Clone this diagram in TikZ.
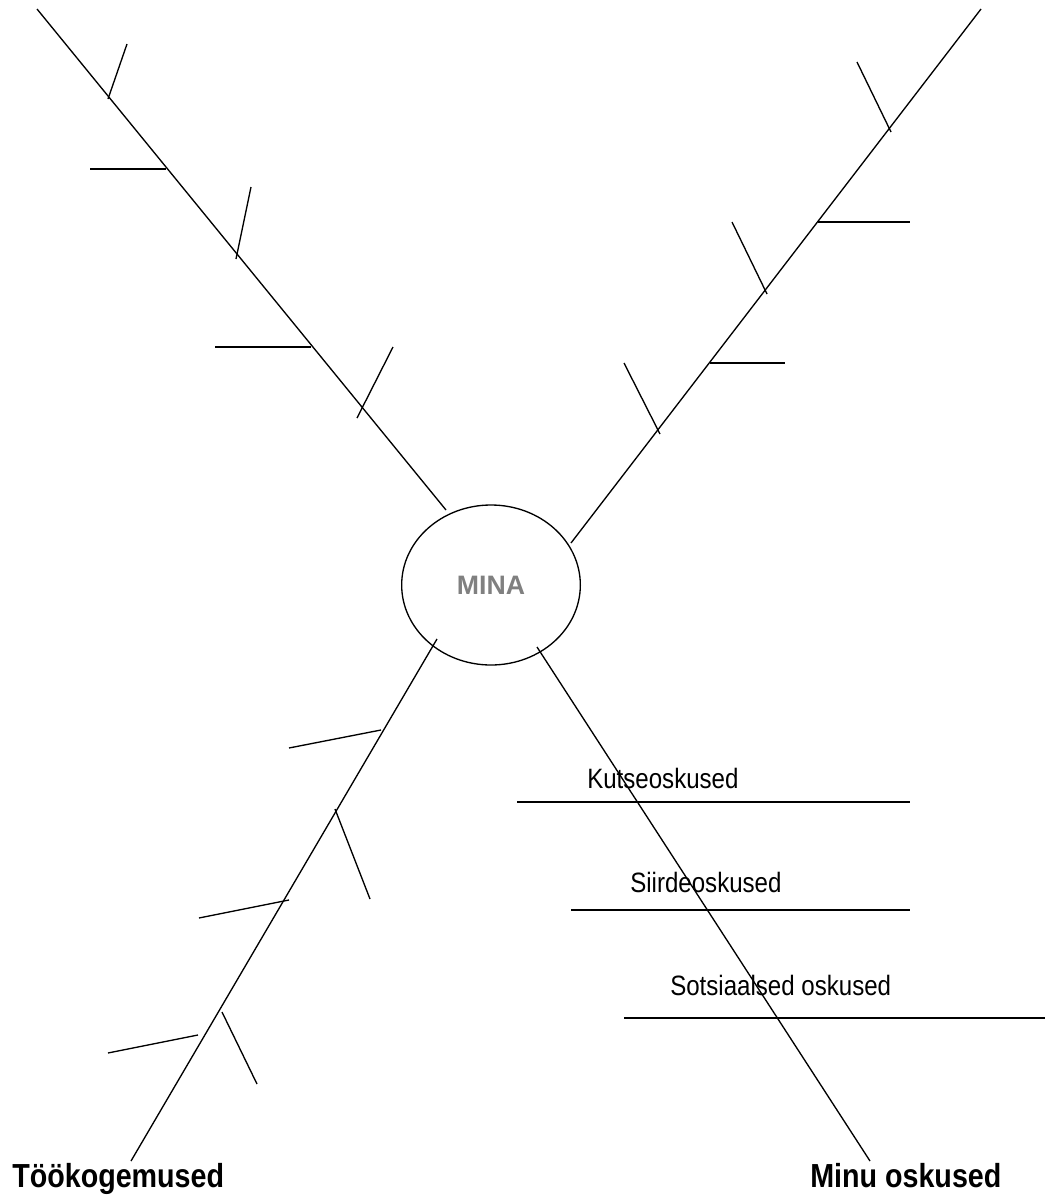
\documentclass[tikz,border=0pt]{standalone}
\usepackage{fontspec}
\setmainfont{Liberation Sans}
\newfontfamily\narrowfont[FakeStretch=0.86]{Liberation Sans}
\usetikzlibrary{shapes.geometric}
\definecolor{minagray}{RGB}{128,128,128}
\tikzset{
  ln/.style={line width=1pt, line cap=butt},
  lbl/.style={anchor=base west, inner sep=0pt, font=\narrowfont\fontsize{21}{25}\selectfont},
  biglbl/.style={anchor=base west, inner sep=0pt, font=\narrowfont\bfseries\fontsize{25}{30}\selectfont},
  core/.style={ellipse, draw, line width=1pt, minimum width=134pt, minimum height=120pt, inner sep=0pt,
    text=minagray, font=\bfseries\fontsize{20}{24}\selectfont}
}
\begin{document}
\begin{tikzpicture}[x=0.75pt,y=-0.75pt]
\useasboundingbox (0,0) rectangle (1045,1196);
\fill[white] (0,0) rectangle (1045,1196);

\node[core] (mina) at (491,585) {MINA};

% main branch end points
\coordinate (ulTop) at (37,9);
\coordinate (ulEnd) at (446,510);
\coordinate (urTop) at (981,9);
\coordinate (urEnd) at (571,543);
\coordinate (llStart) at (437,639);
\coordinate (llEnd) at (131,1161);
\coordinate (lrStart) at (537,647);
\coordinate (lrEnd) at (870,1161);

\draw[ln] (ulTop) -- (ulEnd);
\draw[ln] (urTop) -- (urEnd);
\draw[ln] (llStart) -- (llEnd);
\draw[ln] (lrStart) -- (lrEnd);

% upper-left ticks
\draw[ln] (127,44) -- (108,99);
\draw[ln] (90,169) -- (166,169);
\draw[ln] (251,187) -- (236,259);
\draw[ln] (215,347) -- (311,347);
\draw[ln] (393,347) -- (357,418);

% upper-right ticks
\draw[ln] (857,62) -- (891,132);
\draw[ln] (818,222) -- (910,222);
\draw[ln] (732,222) -- (767,294);
\draw[ln] (710,363) -- (785,363);
\draw[ln] (624,363) -- (660,434);

% lower-left ticks
\draw[ln] (289,748) -- (381,730);
\draw[ln] (335,809) -- (370,899);
\draw[ln] (199,918) -- (289,900);
\draw[ln] (222,1012) -- (257,1084);
\draw[ln] (108,1053) -- (198,1035);

% lower-right skill lines
\draw[ln] (517,802) -- (910,802);
\draw[ln] (571,910) -- (910,910);
\draw[ln] (624,1018) -- (1045,1018);

\node[lbl] (kutse) at (587,788) {Kutseoskused};
\node[lbl] (siirde) at (630,892) {Siirdeoskused};
\node[lbl] (sots) at (670,995) {Sotsiaalsed oskused};

\node[biglbl] (too) at (12,1187) {Töökogemused};
\node[biglbl] (minu) at (810,1187) {Minu oskused};
\end{tikzpicture}
\end{document}
